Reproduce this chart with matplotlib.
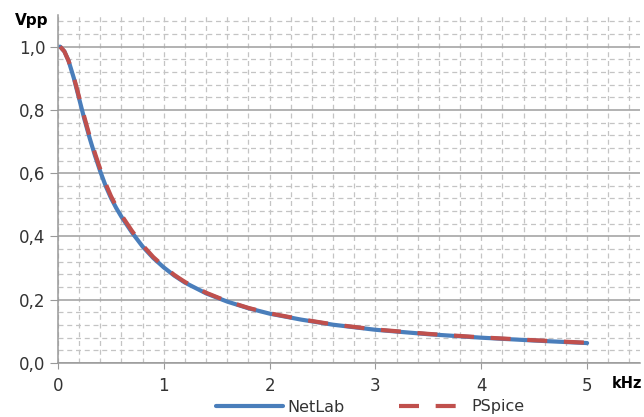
import numpy as np
import matplotlib
matplotlib.use("Agg")
import matplotlib.pyplot as plt
from matplotlib.ticker import MultipleLocator, FuncFormatter

# frequency in kHz, amplitude in Vpp
freq = [0.02, 0.06, 0.10, 0.15, 0.20, 0.25, 0.30, 0.35, 0.40, 0.45, 0.50,
        0.55, 0.60, 0.70, 0.80, 0.90, 1.00, 1.10, 1.20, 1.40, 1.60, 1.80,
        2.00, 2.30, 2.60, 3.00, 3.50, 4.00, 4.50, 5.00]
netlab = [1.000, 0.985, 0.955, 0.900, 0.835, 0.770, 0.710, 0.655, 0.605,
          0.560, 0.522, 0.490, 0.462, 0.412, 0.368, 0.332, 0.302, 0.276,
          0.254, 0.220, 0.194, 0.173, 0.156, 0.137, 0.121, 0.105, 0.091,
          0.080, 0.071, 0.063]
pspice = [1.000, 0.985, 0.955, 0.903, 0.840, 0.776, 0.716, 0.662, 0.612,
          0.567, 0.528, 0.495, 0.467, 0.417, 0.372, 0.335, 0.305, 0.278,
          0.256, 0.222, 0.195, 0.174, 0.157, 0.138, 0.122, 0.106, 0.092,
          0.081, 0.072, 0.064]

fig = plt.figure(figsize=(6.44, 4.17), dpi=100)
ax = fig.add_axes([58 / 644, 1 - 363 / 417, 582 / 644, 348 / 417])

ax.set_xlim(0, 5.5)
ax.set_ylim(0, 1.1)

ax.xaxis.set_major_locator(MultipleLocator(1))
ax.xaxis.set_minor_locator(MultipleLocator(0.2))
ax.yaxis.set_major_locator(MultipleLocator(0.2))
ax.yaxis.set_minor_locator(MultipleLocator(0.04))

grid_dash = (0, (4, 3))
ax.grid(which="minor", color="#c4c4c4", lw=0.9, ls=grid_dash)
ax.xaxis.grid(which="major", color="#c4c4c4", lw=0.9, ls=grid_dash)
ax.yaxis.grid(which="major", color="#a6a6a6", lw=1.2, ls="-")
ax.set_axisbelow(True)

for s in ["top", "right"]:
    ax.spines[s].set_visible(False)
for s in ["left", "bottom"]:
    ax.spines[s].set_color("#999999")
    ax.spines[s].set_linewidth(1.1)

ax.tick_params(which="major", axis="x", length=4, color="#999999", labelsize=12,
               labelcolor="#333333", pad=6)
ax.tick_params(which="major", axis="y", length=6, color="#999999", labelsize=12,
               labelcolor="#333333", pad=3)
ax.tick_params(which="minor", length=0)
ax.yaxis.set_major_formatter(FuncFormatter(lambda v, p: f"{v:.1f}".replace(".", ",") if v <= 1.01 else ""))
ax.xaxis.set_major_formatter(FuncFormatter(lambda v, p: f"{v:.0f}" if v <= 5.01 else ""))

ax.plot(freq, netlab, color="#4a7ebb", lw=3.0, solid_capstyle="round", label="NetLab")
ax.plot(freq, pspice, color="#c0504d", lw=3.0, ls=(0, (4.8, 4.0)), label="PSpice")

fig.text(15 / 644, 1 - 20 / 417, "Vpp", fontsize=11, fontweight="bold", va="center", ha="left")
fig.text(612 / 644, 1 - 383 / 417, "kHz", fontsize=10.5, fontweight="bold", va="center", ha="left")

fig.legend(loc="center", bbox_to_anchor=(370 / 644, 1 - 407 / 417), ncol=2, frameon=False,
           fontsize=11.5, handlelength=4.2, columnspacing=3.4, handletextpad=0.3,
           labelcolor="#333333")

fig.savefig("out.png", dpi=100)
